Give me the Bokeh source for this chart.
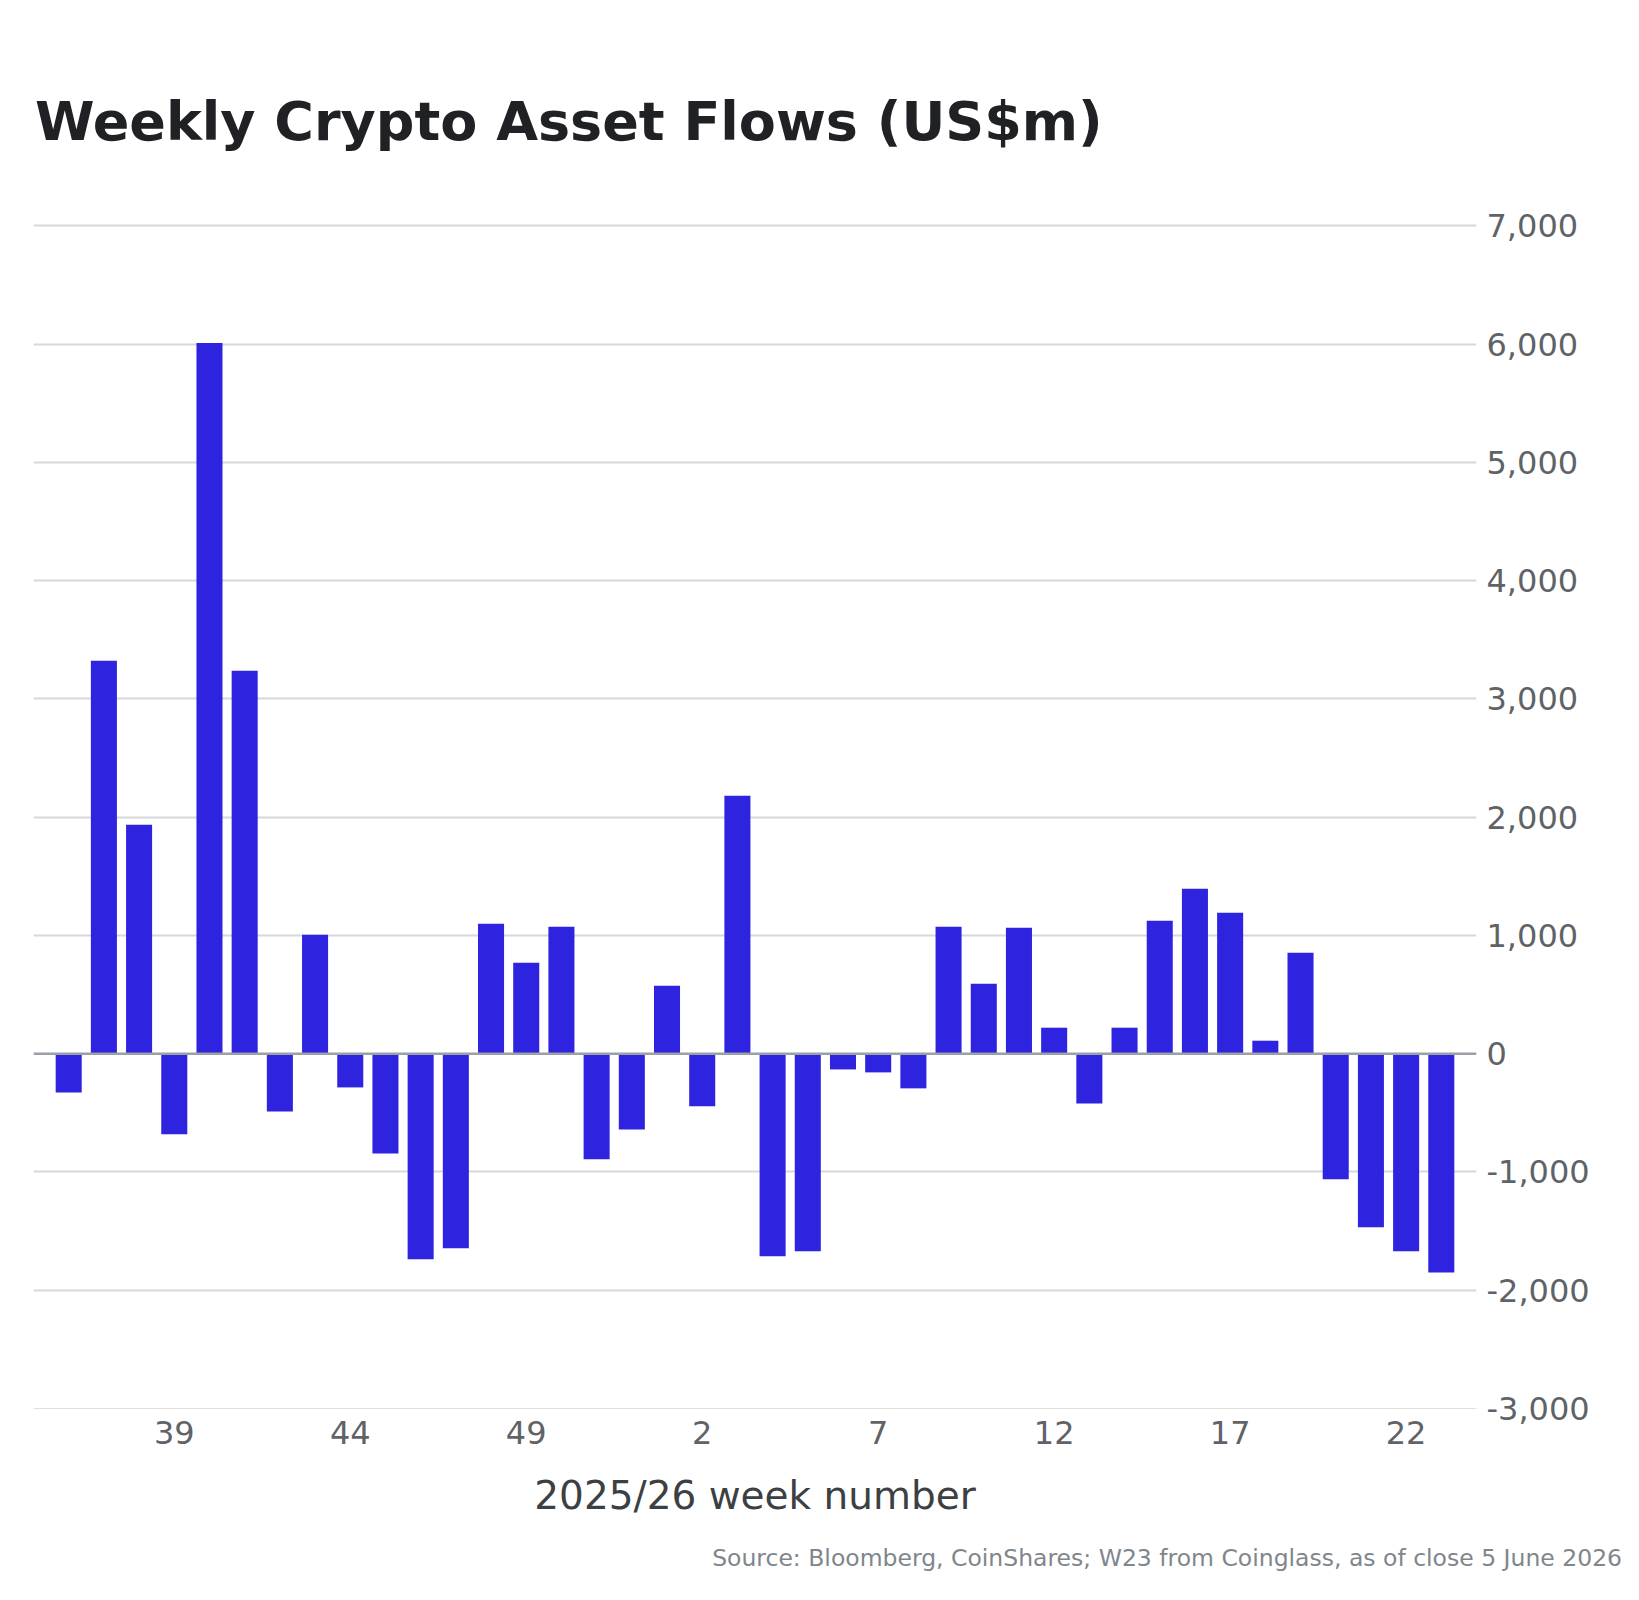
from bokeh.plotting import figure
from bokeh.models import Range1d, FixedTicker, NumeralTickFormatter, Span, Title
from bokeh.embed import file_html
from bokeh.resources import INLINE

# ISO week numbers, 2025 W36 through 2026 W23
weeks = list(range(36, 53)) + list(range(1, 24))

# Weekly net flows into crypto investment products, US$m
flows = [
    -327, 3322, 1936, -682, 6010, 3238, -488, 1006, -285, -843,
    -1739, -1646, 1099, 769, 1073, -893, -640, 575, -445, 2181,
    -1713, -1671, -133, -158, -293, 1073, 592, 1065, 220, -420,
    220, 1124, 1395, 1192, 110, 854, -1062, -1468, -1671, -1849,
]

# every fifth week gets a tick label
tick_weeks = [39, 44, 49, 2, 7, 12, 17, 22]
y_ticks = [-3000, -2000, -1000, 0, 1000, 2000, 3000, 4000, 5000, 6000, 7000]

title_text = "Weekly Crypto Asset Flows (US$m)"
x_title = "2025/26 week number"
source_text = "Source: Bloomberg, CoinShares;  W23 from Coinglass, as of close 5 June 2026"

FONT = "DejaVu Sans"
BAR = "#2e24e0"
GRID = "#d6d8dc"

idx = list(range(len(weeks)))
tick_pos = [weeks.index(w) for w in tick_weeks]

p = figure(
    width=1639, height=1600,
    x_range=Range1d(-1, len(weeks)),
    # a little headroom above 7,000 so its grid line is not cut by the frame edge
    y_range=Range1d(-3000, 7020),
    y_axis_location="right",
    output_backend="svg", toolbar_location=None,
    min_border_left=33, min_border_right=163,
    min_border_top=223, min_border_bottom=192,
)
p.outline_line_color = None
p.background_fill_color = "white"
p.border_fill_color = "white"

p.vbar(x=idx, top=flows, bottom=0, width=0.74, fill_color=BAR, line_color=None)

# grid: light lines, zero line drawn separately and darker
p.xgrid.visible = False
p.ygrid.ticker = FixedTicker(ticks=[t for t in y_ticks if t not in (0, -3000)])
p.ygrid.grid_line_color = GRID
p.ygrid.grid_line_width = 2
p.add_layout(Span(location=0, dimension="width", line_color="#9aa0a6", line_width=2.5))

# y axis on the right
ya = p.yaxis[0]
ya.ticker = FixedTicker(ticks=y_ticks)
ya.formatter = NumeralTickFormatter(format="0,0")
ya.axis_line_color = None
ya.major_tick_line_color = None
ya.minor_tick_line_color = None
ya.major_tick_out = 0
ya.major_label_standoff = 10
ya.major_label_text_font = FONT
ya.major_label_text_font_size = "32px"
ya.major_label_text_color = "#5f6368"

# x axis with week-number labels
xa = p.xaxis[0]
xa.ticker = FixedTicker(ticks=tick_pos)
xa.major_label_overrides = {i: str(w) for i, w in zip(tick_pos, tick_weeks)}
xa.axis_line_color = "#e0e0e0"
xa.axis_line_width = 1
xa.major_tick_line_color = None
xa.minor_tick_line_color = None
xa.major_tick_out = 0
xa.major_label_standoff = 12
xa.major_label_text_font = FONT
xa.major_label_text_font_size = "32px"
xa.major_label_text_color = "#5f6368"
xa.axis_label = x_title
xa.axis_label_text_font = FONT
xa.axis_label_text_font_size = "39px"
xa.axis_label_text_font_style = "normal"
xa.axis_label_text_color = "#3c4043"
xa.axis_label_standoff = 26

# chart title, left-aligned with the plot area
p.title.text = title_text
p.title.align = "left"
p.title.offset = 1.5
p.title.text_font = FONT
p.title.text_font_size = "54px"
p.title.text_font_style = "bold"
p.title.text_color = "#202124"
p.title.standoff = 142

# source note under the axis title, right-aligned past the plot area
p.add_layout(Title(
    text=source_text, align="right", offset=-153, standoff=42,
    text_font=FONT, text_font_size="23.5px", text_font_style="normal",
    text_color="#80868b",
), "below")

open("out.html", "w").write(file_html(p, INLINE))
